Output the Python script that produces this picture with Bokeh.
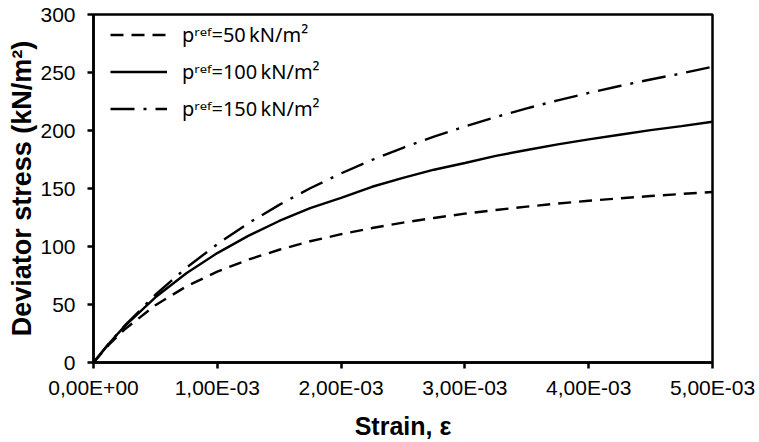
from bokeh.plotting import figure
from bokeh.models import Range1d, FixedTicker, Legend, LegendItem
from bokeh.embed import file_html
from bokeh.resources import INLINE

strain = [0.0, 0.000125, 0.00025, 0.0005, 0.00075, 0.001, 0.00125, 0.0015, 0.00175, 0.002,
          0.00225, 0.0025, 0.00275, 0.003, 0.00325, 0.0035, 0.00375, 0.004, 0.00425,
          0.0045, 0.00475, 0.005]
q_50 = [0.0, 15.4, 28.4, 49.4, 65.6, 78.3, 88.7, 97.2, 104.5, 110.6,
        115.9, 120.6, 124.6, 128.3, 131.5, 134.4, 137.0, 139.4, 141.5,
        143.5, 145.3, 147.0]
q_100 = [0.0, 16.4, 31.1, 56.2, 76.9, 94.3, 109.2, 122.0, 133.1, 142.0,
         151.5, 159.2, 166.2, 172.0, 178.1, 183.2, 188.0, 192.3, 196.3,
         200.3, 203.8, 207.5]
q_150 = [0.0, 16.4, 31.5, 58.4, 81.7, 102.0, 120.0, 135.9, 150.2, 163.0,
         174.6, 185.1, 194.7, 203.5, 211.6, 219.1, 226.0, 232.4, 238.4,
         244.0, 249.2, 255.0]

x_ticks = [0.0, 0.001, 0.002, 0.003, 0.004, 0.005]
x_tick_labels = ["0,00E+00", "1,00E-03", "2,00E-03", "3,00E-03", "4,00E-03", "5,00E-03"]
y_ticks = [0, 50, 100, 150, 200, 250, 300]

labels = ["p\u02b3\u1d49\u1da0=50\u2009kN/m\u00b2",
          "p\u02b3\u1d49\u1da0=100\u2009kN/m\u00b2",
          "p\u02b3\u1d49\u1da0=150\u2009kN/m\u00b2"]

p = figure(width=759, height=442, output_backend="svg", toolbar_location=None,
           x_range=Range1d(0, 0.005), y_range=Range1d(0, 300),
           min_border_left=93, min_border_right=47, min_border_top=14, min_border_bottom=78)
p.background_fill_color = "white"
p.border_fill_color = "white"
p.xgrid.visible = False
p.ygrid.visible = False
p.outline_line_color = "black"
p.outline_line_width = 2.5
p.outline_line_alpha = 1.0

r1 = p.line(strain, q_50, line_color="black", line_width=2.4, line_dash="13 8")
r2 = p.line(strain, q_100, line_color="black", line_width=2.4)
r3 = p.line(strain, q_150, line_color="black", line_width=2.4, line_dash="24 9 3 9")

for ax in (p.xaxis[0], p.yaxis[0]):
    ax.axis_line_width = 2.5
    ax.axis_line_color = "black"
    ax.major_tick_line_width = 2.5
    ax.major_tick_line_color = "black"
    ax.major_tick_in = 0
    ax.major_tick_out = 6
    ax.minor_tick_line_color = None
    ax.major_label_text_font = "Liberation Sans"
    ax.major_label_text_font_size = "21px"
    ax.major_label_text_color = "black"
    ax.axis_label_text_font = "Liberation Sans"
    ax.axis_label_text_font_size = "25px"
    ax.axis_label_text_font_style = "bold"
    ax.axis_label_text_color = "black"

p.xaxis.ticker = FixedTicker(ticks=x_ticks)
p.xaxis.major_label_overrides = {t: l for t, l in zip(x_ticks, x_tick_labels)}
p.xaxis.major_label_standoff = 7
p.xaxis.axis_label = "Strain, \u03b5"
p.xaxis.axis_label_standoff = 10

p.yaxis.ticker = FixedTicker(ticks=y_ticks)
p.yaxis.major_label_standoff = 12
p.yaxis.axis_label = "Deviator stress (kN/m\u00b2)"
p.yaxis.axis_label_text_font_size = "27px"
p.yaxis.axis_label_standoff = 0

legend = Legend(items=[LegendItem(label=labels[0], renderers=[r1]),
                       LegendItem(label=labels[1], renderers=[r2]),
                       LegendItem(label=labels[2], renderers=[r3])],
                location=(17, 240))
legend.border_line_color = None
legend.background_fill_alpha = 0
legend.label_text_font = "Noto Sans"
legend.label_text_font_size = "20px"
legend.label_text_color = "black"
legend.glyph_width = 57
legend.glyph_height = 27
legend.label_height = 27
legend.label_standoff = 15
legend.spacing = 10
legend.padding = 0
legend.margin = 0
p.add_layout(legend)

open("out.html", "w").write(file_html(p, INLINE))
